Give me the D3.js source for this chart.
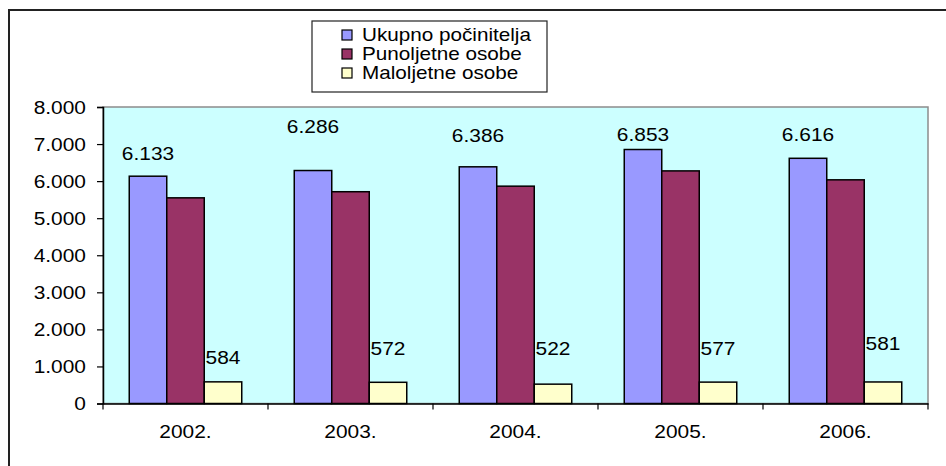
<html>
<head>
<meta charset="utf-8">
<script src="https://d3js.org/d3.v7.min.js"></script>
<style>
  body { margin: 0; background: #fff; }
  text { font-family: "Liberation Sans", Arial, sans-serif; fill: #000; }
</style>
</head>
<body>
<svg id="chart" width="946" height="466"></svg>
<script>
// data
const years = ["2002.", "2003.", "2004.", "2005.", "2006."];
const seriesNames = ["Ukupno počinitelja", "Punoljetne osobe", "Maloljetne osobe"];
const ukupno = [6133, 6286, 6386, 6853, 6616];
const punoljetne = [5549, 5714, 5864, 6276, 6035];
const maloljetne = [584, 572, 522, 577, 581];
const yTicks = [0, 1000, 2000, 3000, 4000, 5000, 6000, 7000, 8000];

// label nudges (px above bar top), the labels were dragged by hand in the original
const ukupnoLabelDy = [23, 44, 31, 15, 24];
const maloLabelDy = [25, 34, 36, 34, 39];

const colors = ["#9999ff", "#993366", "#ffffcc"];
const sx = 1.1; // the original is stretched horizontally

const svg = d3.select("#chart");
const plot = { left: 103, right: 928, top: 107, bottom: 403.5 };

const fmt = d3.formatLocale({ decimal: ",", thousands: ".", grouping: [3], currency: ["", ""] }).format(",d");

// outer frame
svg.append("rect")
    .attr("x", 9).attr("y", 10)
    .attr("width", 960).attr("height", 480)
    .attr("fill", "none").attr("stroke", "#222").attr("stroke-width", 2);

const x = d3.scaleBand().domain(years).range([plot.left, plot.right]);
const x1 = d3.scaleBand().domain(seriesNames).range([0, x.bandwidth()]).paddingOuter(0.7);
const y = d3.scaleLinear().domain([0, 8000]).range([plot.bottom, plot.top]);

// plot area
svg.append("rect")
    .attr("x", plot.left).attr("y", plot.top)
    .attr("width", plot.right - plot.left).attr("height", plot.bottom - plot.top)
    .attr("fill", "#ccffff").attr("stroke", "#8c8c8c").attr("stroke-width", 1.5);

function stretchedText(g, tx, ty, str, size, anchor) {
    return g.append("text")
        .attr("transform", `translate(${tx},${ty}) scale(${sx},1)`)
        .attr("text-anchor", anchor || "middle")
        .attr("dominant-baseline", "central")
        .style("font-size", size + "px")
        .text(str);
}

// bars
const allSeries = [ukupno, punoljetne, maloljetne];
const groups = svg.append("g");
allSeries.forEach((vals, si) => {
    groups.selectAll(null).data(vals)
        .join("rect")
        .attr("x", (d, i) => x(years[i]) + x1(seriesNames[si]))
        .attr("y", d => y(d))
        .attr("width", x1.bandwidth())
        .attr("height", d => y(0) - y(d))
        .attr("fill", colors[si])
        .attr("stroke", "#000")
        .attr("stroke-width", 1.5);
});

// axes
const yAxis = svg.append("g")
    .attr("transform", `translate(${plot.left},0)`)
    .call(d3.axisLeft(y).tickValues(yTicks).tickSize(6).tickFormat(""));
const xAxis = svg.append("g")
    .attr("transform", `translate(0,${plot.bottom})`)
    .call(d3.axisBottom(x).tickValues([]).tickSizeOuter(0));
[yAxis, xAxis].forEach(a => {
    a.select(".domain").attr("stroke", "#000").attr("stroke-width", 1.5);
    a.selectAll(".tick line").attr("stroke", "#000").attr("stroke-width", 1.2);
});
// category boundary ticks
svg.append("g").selectAll("line")
    .data(years.map(d => x(d)).concat([x.range()[1]]))
    .join("line")
    .attr("x1", d => d).attr("x2", d => d)
    .attr("y1", plot.bottom).attr("y2", plot.bottom + 6)
    .attr("stroke", "#000").attr("stroke-width", 1.2);

// tick labels
const labels = svg.append("g");
yTicks.forEach(t => stretchedText(labels, 86, y(t), fmt(t), 19, "end"));
years.forEach(yr => stretchedText(labels, x(yr) + x.bandwidth() / 2, 431, yr, 19));

// value labels
ukupno.forEach((v, i) => stretchedText(labels,
    x(years[i]) + x1(seriesNames[0]) + x1.bandwidth() / 2, y(v) - ukupnoLabelDy[i], fmt(v), 19));
maloljetne.forEach((v, i) => stretchedText(labels,
    x(years[i]) + x1(seriesNames[2]) + x1.bandwidth() / 2, y(v) - maloLabelDy[i], fmt(v), 19));

// legend
const legend = svg.append("g");
legend.append("rect")
    .attr("x", 312).attr("y", 21).attr("width", 235).attr("height", 71)
    .attr("fill", "#fff").attr("stroke", "#222").attr("stroke-width", 1.2);
seriesNames.forEach((name, i) => {
    const cy = 35 + i * 19;
    legend.append("rect")
        .attr("x", 342).attr("y", cy - 5).attr("width", 10).attr("height", 10)
        .attr("fill", colors[i]).attr("stroke", "#000").attr("stroke-width", 1.2);
    legend.append("text")
        .attr("transform", `translate(362,${cy}) scale(1.15,1)`)
        .attr("dominant-baseline", "central")
        .style("font-size", "18px")
        .text(name);
});
</script>
</body>
</html>
